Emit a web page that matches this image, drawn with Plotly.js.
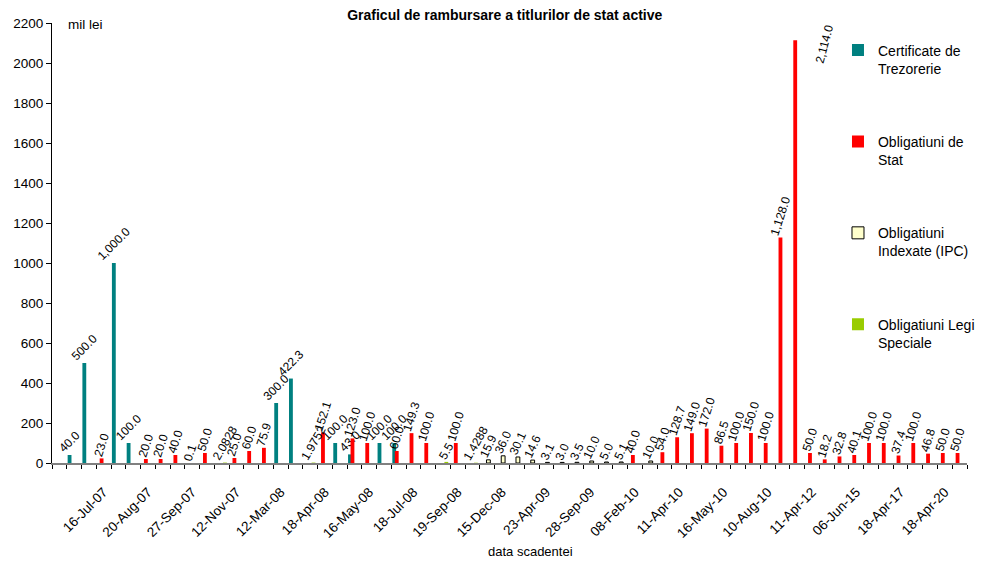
<!DOCTYPE html>
<html>
<head>
<meta charset="utf-8">
<script src="https://cdn.plot.ly/plotly-3.0.1.min.js"></script>
<style>
  html, body { margin: 0; padding: 0; background: #fff; }
  #chart { width: 982px; height: 561px; }
</style>
</head>
<body>
<div id="chart"></div>
<script>
// Category (maturity date) labels; unlabeled dates left blank as in the original axis
const categories = [
  '', '', '', '16-Jul-07', '', '', '20-Aug-07', '', '', '27-Sep-07',
  '', '', '12-Nov-07', '', '', '12-Mar-08', '', '', '18-Apr-08', '',
  '', '16-May-08', '', '', '18-Jul-08', '', '', '19-Sep-08', '', '',
  '15-Dec-08', '', '', '23-Apr-09', '', '', '28-Sep-09', '', '', '08-Feb-10',
  '', '', '11-Apr-10', '', '', '16-May-10', '', '', '10-Aug-10', '',
  '', '11-Apr-12', '', '', '06-Jun-15', '', '', '18-Apr-17', '', '',
  '18-Apr-20', ''
];

const seriesNames = [
  'Certificate de<br>Trezorerie',
  'Obligatiuni de<br>Stat',
  'Obligatiuni<br>Indexate (IPC)',
  'Obligatiuni Legi<br>Speciale'
];

// Certificate de Trezorerie
const certificate = [
  null, 40, 500, null, 1000, 100, null, null, null, null,
  null, null, null, null, null, 300, 422.3, null, null, 100,
  43, null, 100, 100, null, null, null, null, null, null,
  null, null, null, null, null, null, null, null, null, null,
  null, null, null, null, null, null, null, null, null, null,
  null, null, null, null, null, null, null, null, null, null,
  null, null
];

// Obligatiuni de Stat
const obligatiuniStat = [
  null, null, null, 23, null, null, 20, 20, 40, 0.1,
  50, null, 25, 60, 75.9, null, null, null, 152.1, null,
  123, 100, null, 60, 149.3, 100, null, 100, null, null,
  null, null, null, null, null, null, null, null, null, 40,
  null, 54, 128.7, 149, 172, 86.5, 100, 150, 100, 1128,
  2114, 50, 18.2, 32.8, 40.1, 100, 100, 37.4, 100, 46.8,
  50, 50
];

// Obligatiuni Indexate (IPC)
const obligatiuniIPC = [
  null, null, null, null, null, null, null, null, null, null,
  null, null, null, null, null, null, null, null, null, null,
  null, null, null, null, null, null, null, null, null, 15.9,
  36, 30.1, 14.6, 3.1, 3.0, 3.5, 10, 5, 5.1, null,
  10, null, null, null, null, null, null, null, null, null,
  null, null, null, null, null, null, null, null, null, null,
  null, null
];

// Obligatiuni Legi Speciale
const obligatiuniLegi = [
  null, null, null, null, null, null, null, null, null, null,
  null, 2.0828, null, null, null, null, null, 1.9752, null, null,
  null, null, null, null, null, null, 5.5, null, 1.4288, null,
  null, null, null, null, null, null, null, null, null, null,
  null, null, null, null, null, null, null, null, null, null,
  null, null, null, null, null, null, null, null, null, null,
  null, null
];

const colors = ['#008080', '#FF0000', '#FFFFCC', '#99CC00'];

function fmt1(v) {
  const s = Math.abs(v).toFixed(1);
  const parts = s.split('.');
  parts[0] = parts[0].replace(/\B(?=(\d{3})+(?!\d))/g, ',');
  return (v < 0 ? '-' : '') + parts.join('.');
}

const xs = categories.map((c, i) => i + 1);
const tickvals = xs.filter((x, i) => categories[i] !== '');
const ticktext = categories.filter(c => c !== '');

const maxStat = Math.max(...obligatiuniStat.filter(v => v !== null));
const maxIdx = obligatiuniStat.indexOf(maxStat);

const barW = 0.26;
const centers = [-0.31, -0.14, 0.07, 0.22];
const angles = [-45, -72, -65, -60];
const seriesData = [certificate, obligatiuniStat, obligatiuniIPC, obligatiuniLegi];

const traces = seriesData.map((vals, k) => {
  const text = vals.map((v, i) => {
    if (v === null) return '';
    if (k === 1 && i === maxIdx) return '';
    return k === 3 ? String(v) : fmt1(v);
  });
  return {
    type: 'bar',
    name: seriesNames[k],
    legendgroup: 'g' + k,
    x: xs,
    y: vals,
    width: barW,
    offset: centers[k] - barW / 2,
    marker: {
      color: colors[k],
      line: { color: k === 2 ? '#000000' : colors[k], width: k === 2 ? 1 : 0 }
    },
    text: text,
    textposition: 'outside',
    textangle: angles[k],
    constraintext: 'none',
    cliponaxis: false,
    textfont: { size: 12, color: '#000', family: 'Liberation Sans, Arial, sans-serif' },
    hoverinfo: 'skip'
  };
});

const layout = {
  width: 982,
  height: 561,
  margin: { l: 52, r: 15, t: 23, b: 98, autoexpand: false },
  paper_bgcolor: '#ffffff',
  plot_bgcolor: '#ffffff',
  font: { family: 'Liberation Sans, Arial, sans-serif', size: 13, color: '#000' },
  barmode: 'overlay',
  showlegend: true,
  title: {
    text: '<b>Graficul de rambursare a titlurilor de stat active</b>',
    font: { size: 14, color: '#000' },
    xref: 'container', yref: 'container',
    x: 0.514, y: 0.973, xanchor: 'center', yanchor: 'middle'
  },
  legend: {
    x: 0.859, y: 0.974, xanchor: 'left', yanchor: 'top',
    bgcolor: 'rgba(0,0,0,0)',
    font: { size: 14, color: '#000' },
    traceorder: 'grouped',
    tracegroupgap: 52,
    valign: 'top'
  },
  xaxis: {
    range: [0.5, xs.length + 0.5],
    tickmode: 'array',
    tickvals: tickvals,
    ticktext: ticktext,
    tickangle: -45,
    ticks: 'outside',
    ticklen: 14,
    tickcolor: 'rgba(0,0,0,0)',
    tickfont: { size: 13.5 },
    showline: true,
    linecolor: '#808080',
    linewidth: 2,
    showgrid: false,
    zeroline: false,
    minor: { tickmode: 'linear', tick0: 0.5, dtick: 1, ticks: 'outside', ticklen: 4, tickcolor: '#000', tickwidth: 1, showgrid: false }
  },
  yaxis: {
    range: [0, 2200],
    tickmode: 'linear', tick0: 0, dtick: 200,
    ticks: 'outside', ticklen: 5, tickcolor: '#000',
    tickfont: { size: 13.5 },
    showline: true, linecolor: '#000', linewidth: 1,
    showgrid: false, zeroline: false
  },
  annotations: [
    {
      text: 'mil lei', xref: 'paper', yref: 'paper', x: 0.015, y: 0.997,
      xanchor: 'left', yanchor: 'middle', showarrow: false, font: { size: 13.5 }
    },
    {
      text: 'data scadentei', xref: 'paper', yref: 'paper', x: 0.523, y: -0.2007,
      xanchor: 'center', yanchor: 'middle', showarrow: false, font: { size: 13 }
    },
    {
      text: fmt1(maxStat), xref: 'x', yref: 'y', x: xs[maxIdx] + 1.85, y: maxStat,
      xanchor: 'center', yanchor: 'middle', yshift: -4, textangle: -75,
      showarrow: false, font: { size: 12 }
    }
  ]
};

Plotly.newPlot('chart', traces, layout, { displayModeBar: false, staticPlot: true });
</script>
</body>
</html>
